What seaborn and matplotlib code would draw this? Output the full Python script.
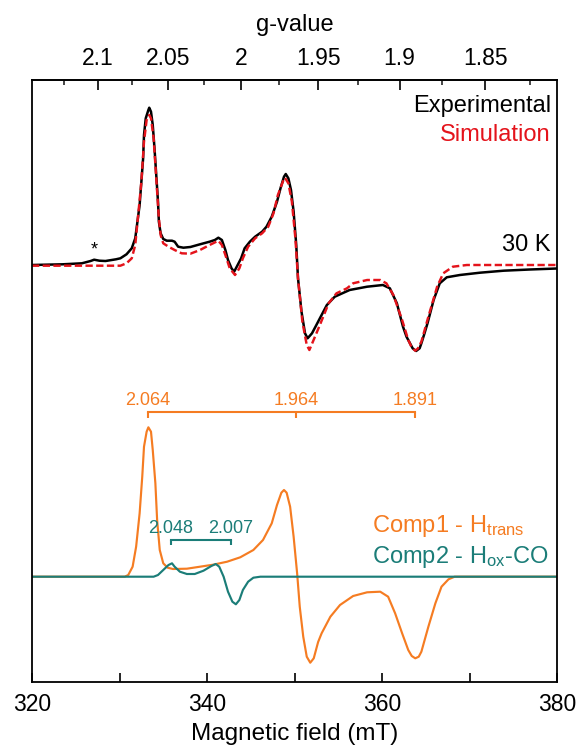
import matplotlib
matplotlib.use("Agg")
import matplotlib.pyplot as plt
from matplotlib.ticker import FixedLocator, NullFormatter
import numpy as np
import seaborn as sns

# ---- spectra (field in mT, intensity in arbitrary units) ----
exp_field = [320.0, 323.5, 325.7, 326.7, 327.1, 327.7, 328.4, 329.6, 330.1, 330.8,
             331.4, 331.8, 332.0, 332.3, 332.5, 332.7, 332.8, 333.0, 333.3, 333.4,
             333.6, 333.8, 334.0, 334.2, 334.4, 334.5, 334.7, 335.0, 335.4, 336.0,
             336.3, 336.7, 337.3, 338.1, 339.2, 340.3, 340.9, 341.3, 341.7, 342.1,
             342.4, 342.8, 343.1, 343.4, 343.9, 344.3, 344.9, 345.5, 346.3, 346.8,
             347.4, 348.0, 348.4, 348.8, 349.0, 349.3, 349.6, 349.9, 350.2, 350.4,
             350.8, 351.2, 351.5, 352.0, 352.5, 352.9, 353.7, 354.6, 356.3, 358.3,
             360.1, 360.9, 361.7, 362.4, 362.8, 363.2, 363.5, 363.9, 364.3, 364.5,
             364.8, 365.2, 365.9, 366.6, 367.4, 368.9, 371.2, 373.9, 376.9, 380.0]
exp_int = [0.0, 0.7, 1.7, 4.0, 5.3, 4.3, 4.0, 5.7, 6.7, 10.7,
           16.7, 26.7, 40.0, 60.0, 83.3, 106.7, 130.0, 146.7, 155.0, 157.3,
           153.3, 140.0, 116.7, 90.0, 63.3, 43.3, 31.7, 26.0, 24.3, 24.3,
           23.3, 18.3, 17.3, 18.0, 20.7, 23.3, 25.0, 27.3, 25.0, 15.0,
           5.0, -3.3, -6.7, -1.7, 6.7, 16.7, 23.3, 28.3, 33.3, 38.3,
           48.3, 63.3, 76.7, 88.3, 91.0, 86.7, 75.0, 53.3, 20.0, -13.3,
           -46.7, -68.3, -73.3, -68.3, -60.0, -53.3, -40.0, -31.7, -25.0, -21.7,
           -20.0, -23.3, -38.3, -61.7, -71.7, -78.3, -83.3, -86.0, -83.3, -78.3,
           -70.0, -58.3, -35.0, -18.3, -12.3, -10.0, -7.7, -5.7, -4.5, -3.5]

sim_field = [320.0, 329.6, 330.1, 330.8, 331.4, 331.8, 332.1, 332.5, 332.8, 333.1,
             333.4, 333.6, 333.9, 334.2, 334.5, 334.7, 335.0, 335.6, 336.3, 337.1,
             338.1, 339.2, 340.3, 341.3, 341.7, 342.1, 342.6, 343.2, 343.7, 344.1,
             344.7, 345.5, 346.3, 347.0, 347.6, 348.1, 348.7, 348.9, 349.3, 349.7,
             350.1, 350.4, 350.9, 351.4, 351.7, 352.1, 352.9, 353.9, 354.8, 356.0,
             356.7, 358.3, 359.8, 360.5, 361.3, 362.3, 363.0, 363.4, 363.8, 364.1,
             364.5, 365.3, 366.3, 367.0, 368.1, 369.7, 380.0]
sim_int = [-0.7, -0.7, -0.7, 1.7, 6.7, 20.0, 46.7, 83.3, 123.3, 145.0,
           150.0, 146.7, 126.7, 86.7, 46.7, 30.0, 21.7, 18.3, 15.0, 11.7,
           11.3, 15.0, 20.0, 24.3, 20.0, 10.0, -3.3, -10.0, -3.3, 6.7,
           18.3, 26.7, 31.7, 38.3, 51.7, 70.0, 84.0, 87.3, 81.7, 63.3,
           26.7, -13.3, -56.7, -80.0, -85.0, -76.7, -60.0, -38.3, -28.3, -23.3,
           -18.3, -15.0, -15.0, -18.3, -30.0, -55.0, -75.0, -82.5, -85.7, -83.5,
           -76.7, -51.7, -21.7, -8.3, -1.7, 0.0, 0.0]

comp1_field = [320.0, 330.6, 331.0, 331.5, 331.9, 332.3, 332.6, 332.8, 333.1, 333.3,
               333.6, 333.8, 334.1, 334.3, 334.6, 335.0, 335.5, 336.1, 337.7, 339.2,
               340.7, 342.3, 343.8, 345.3, 346.4, 347.4, 348.0, 348.5, 348.8, 349.1,
               349.5, 349.9, 350.3, 350.6, 351.0, 351.4, 351.8, 352.2, 352.7, 353.1,
               354.1, 355.2, 356.7, 358.3, 359.8, 360.7, 361.5, 362.3, 363.0, 363.4,
               363.8, 364.2, 364.5, 365.3, 366.1, 366.8, 367.6, 368.3, 380.0]
comp1_int = [0.0, 0.0, 1.7, 10.0, 30.0, 63.4, 100.0, 130.0, 145.0, 149.4,
             145.0, 126.7, 93.4, 56.7, 26.7, 13.4, 9.0, 7.7, 8.0, 10.0,
             12.0, 15.0, 19.4, 26.7, 36.7, 53.4, 71.7, 84.0, 86.7, 84.0,
             70.0, 40.0, 3.4, -30.0, -60.0, -80.0, -86.0, -81.6, -65.3, -56.6,
             -40.0, -28.3, -19.3, -15.6, -15.0, -20.0, -36.6, -56.6, -73.3, -79.3,
             -81.6, -80.0, -75.0, -50.0, -26.6, -10.0, -2.6, 0.0, 0.0]

comp2_field = [320.0, 333.9, 334.4, 335.0, 335.6, 336.0, 336.3, 336.9, 337.7, 338.6,
               339.6, 340.5, 341.0, 341.4, 341.9, 342.4, 342.9, 343.3, 343.7, 344.1,
               344.7, 345.3, 346.1, 380.0]
comp2_int = [0.0, 0.0, 1.7, 6.7, 11.7, 13.4, 10.0, 5.0, 2.7, 2.7,
             6.0, 10.7, 12.7, 10.0, 0.0, -15.0, -25.0, -27.6, -23.3, -13.3,
             -5.0, -1.0, 0.0, 0.0]

# principal g-values of the two components
comp1_g = [2.064, 1.964, 1.891]
comp2_g = [2.048, 2.007]

# top-axis g-value ticks
g_major = [2.1, 2.05, 2.0, 1.95, 1.9, 1.85]
g_major_labels = ["2.1", "2.05", "2", "1.95", "1.9", "1.85"]
g_minor = [2.125, 2.075, 2.025, 1.975, 1.925, 1.875, 1.825]

field_major = [320, 340, 360, 380]
field_minor = [330, 350, 370]

# microwave frequency (GHz) and h/muB (mT*GHz)
freq_ghz = 9.627
hb = 71.4477
K = hb * freq_ghz


def b2g(b):
    b = np.asarray(b, dtype=float)
    with np.errstate(divide="ignore"):
        return K / b


def g2b(g):
    g = np.asarray(g, dtype=float)
    with np.errstate(divide="ignore"):
        return K / g


# ---- style ----
sns.set_theme(style="ticks")
plt.rcParams["font.family"] = ["Liberation Sans", "DejaVu Sans"]
plt.rcParams["mathtext.fontset"] = "custom"
plt.rcParams["mathtext.rm"] = "Liberation Sans"
plt.rcParams["mathtext.default"] = "regular"

BLACK = "#000000"
RED = "#E4131B"
ORANGE = "#F57C22"
TEAL = "#1B7D78"

W, H = 583, 751
fig = plt.figure(figsize=(W / 100, H / 100), dpi=100)
ax = fig.add_axes([32 / W, 1 - 682 / H, 525 / W, 602 / H])

top_offset = 417.0
bot_offset = 105.3

sns.lineplot(x=exp_field, y=np.array(exp_int) + top_offset, ax=ax, color=BLACK,
             lw=1.8, sort=False, estimator=None)
sns.lineplot(x=sim_field, y=np.array(sim_int) + top_offset, ax=ax, color=RED,
             lw=1.75, sort=False, estimator=None)
ax.lines[-1].set_dashes((3, 1.4))
sns.lineplot(x=comp1_field, y=np.array(comp1_int) + bot_offset, ax=ax, color=ORANGE,
             lw=1.55, sort=False, estimator=None)
sns.lineplot(x=comp2_field, y=np.array(comp2_int) + bot_offset, ax=ax, color=TEAL,
             lw=1.55, sort=False, estimator=None)
for ln in ax.lines:
    ln.set_solid_joinstyle("round")
    ln.set_solid_capstyle("round")
    ln.set_dash_joinstyle("round")


# g-value brackets
def bracket(gs, y, drop, color, label_y, size):
    xs = [float(g2b(g)) for g in gs]
    ax.plot([xs[0], xs[-1]], [y, y], color=color, lw=1.5, solid_capstyle="projecting")
    for xv, gv in zip(xs, gs):
        ax.plot([xv, xv], [y, y - drop], color=color, lw=1.5, solid_capstyle="butt")
        ax.text(xv, label_y, f"{gv:.3f}", color=color, fontsize=size,
                ha="center", va="baseline")


bracket(comp1_g, 269.7, 5.5, ORANGE, 277.0, 13)
bracket(comp2_g, 141.7, 4.7, TEAL, 149.3, 13)

# annotations
ax.text(379.3, 569.7, "Experimental", color=BLACK, fontsize=17, ha="right", va="baseline")
ax.text(379.3, 541.0, "Simulation", color=RED, fontsize=17, ha="right", va="baseline")
ax.text(379.3, 431.3, "30 K", color=BLACK, fontsize=17, ha="right", va="baseline")
ax.text(327.1, 427.5, "*", color=BLACK, fontsize=13, ha="center", va="baseline")
ax.text(358.8, 150.3, r"Comp1 - H$_{trans}$", color=ORANGE, fontsize=17,
        ha="left", va="baseline")
ax.text(358.8, 119.3, r"Comp2 - H$_{ox}$-CO", color=TEAL, fontsize=17,
        ha="left", va="baseline")

# axes
ax.set_xlim(320, 380)
ax.set_ylim(0, 602)
ax.set_yticks([])
ax.set_ylabel("")
ax.set_xticks(field_major)
ax.set_xticklabels([str(v) for v in field_major])
ax.xaxis.set_minor_locator(FixedLocator(field_minor))
ax.tick_params(axis="x", which="both", direction="in", length=6.5, width=1.2,
               labelsize=16.5, pad=8, colors=BLACK, top=False)
ax.set_xlabel("Magnetic field (mT)", fontsize=17.5, labelpad=5, color=BLACK)
for sp in ax.spines.values():
    sp.set_visible(True)
    sp.set_linewidth(1.3)
    sp.set_color(BLACK)

secax = ax.secondary_xaxis("top", functions=(b2g, g2b))
secax.set_xticks(g_major)
secax.set_xticklabels(g_major_labels)
secax.xaxis.set_minor_locator(FixedLocator(g_minor))
secax.xaxis.set_minor_formatter(NullFormatter())
secax.tick_params(axis="x", which="major", direction="in", length=7, width=1.2,
                  labelsize=16.5, pad=7, colors=BLACK)
secax.tick_params(axis="x", which="minor", direction="in", length=3.5, width=1.2)
secax.set_xlabel("g-value", fontsize=17, labelpad=12, color=BLACK)
secax.spines["top"].set_linewidth(1.3)

fig.savefig("out.png", dpi=100, facecolor="white")
